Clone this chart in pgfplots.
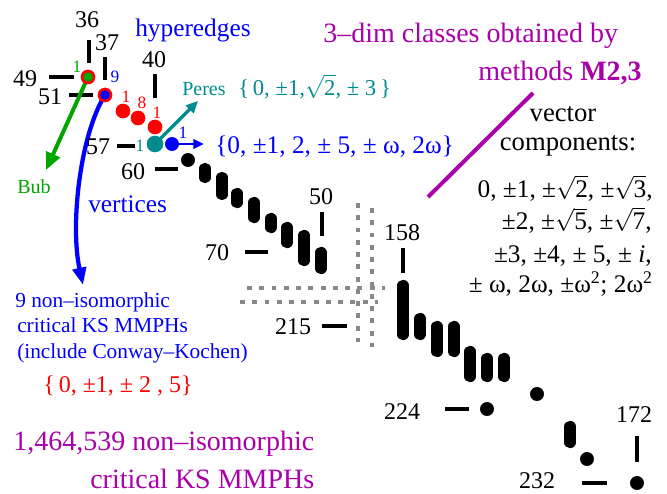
\documentclass[border=0pt]{standalone}
\usepackage{fontspec}
\setmainfont{Liberation Serif}
\usepackage{pgfplots}
\pgfplotsset{compat=1.18}
\usetikzlibrary{arrows.meta}
\definecolor{mag}{RGB}{170,0,170}
\definecolor{tealc}{RGB}{0,140,140}
\definecolor{grn}{RGB}{0,165,0}
\definecolor{gry}{RGB}{136,136,136}
\newcommand\fs[1]{\fontsize{#1pt}{#1pt}\selectfont}
\newcommand\rt[1]{$\sqrt{\mbox{#1}}$}
\begin{document}
\begin{tikzpicture}
\begin{axis}[width=500.25pt,height=369.75pt,scale only axis,
  xmin=0,xmax=667,ymin=0,ymax=493,y dir=reverse,hide axis,clip=false]
\coordinate (BL) at (axis cs:0,493);
\coordinate (TR) at (axis cs:667,0);
% gray dotted axis break
\addplot[gry,line width=3pt,dash pattern=on 3.7pt off 5.5pt,unbounded coords=jump] coordinates {
 (358,203)(358,342) (nan,nan) (372,208)(372,347) (nan,nan)
 (247,288)(385,288) (nan,nan) (240,302)(378,302)};
% tick marks (vertical: hyperedges, horizontal: vertices)
\addplot[black,line width=2.8pt,unbounded coords=jump] coordinates {
 (89,40)(89,63) (nan,nan) (105,57)(105,80) (nan,nan) (155,74)(155,98) (nan,nan)
 (322,212)(322,236) (nan,nan) (403,248)(403,273) (nan,nan) (637,436)(637,462) (nan,nan)
 (49,77)(74,77) (nan,nan) (69,95)(93,95) (nan,nan) (117,146)(135,146) (nan,nan)
 (155,169)(178,169) (nan,nan) (245,252)(268,252) (nan,nan) (322,326)(347,326) (nan,nan)
 (445,409)(469,409) (nan,nan) (582,483)(607,483)};
% black classes (bars = several classes with same hyperedge count)
\addplot[black,line width=8.5pt,line cap=round,unbounded coords=jump] coordinates {
 (205,168.5)(205,177.5) (nan,nan) (222,177.5)(222,194.5) (nan,nan)
 (237,193.5)(237,202.5) (nan,nan) (254,202.5)(254,217.5) (nan,nan)
 (271,218.5)(271,227.5) (nan,nan) (287,227.5)(287,242.5) (nan,nan)
 (304,235.5)(304,260.5) (nan,nan) (321,252.5)(321,268.5) (nan,nan)
 (403,285.5)(403,334.5) (nan,nan) (420,318.5)(420,334.5) (nan,nan)
 (437,326.5)(437,351.5) (nan,nan) (454,326.5)(454,351.5) (nan,nan)
 (470,351.5)(470,376.5) (nan,nan) (487,358.5)(487,376.5) (nan,nan)
 (504,358.5)(504,376.5) (nan,nan) (570,426.5)(570,442.5)};
\addplot[only marks,mark=*,black,mark size=5pt] coordinates {
 (188,160)(537,394)(487,409)(587,459)(637,483)};
% arrows
\draw[grn,line width=3pt,-{Triangle[length=13pt,width=11pt]}] (88,77) -- (46,170);
\draw[blue,line width=3.2pt,-{Triangle[length=13pt,width=10pt]}] (105,95) .. controls (80,135) and (70,225) .. (83,285);
\draw[tealc,line width=2.4pt,-{Triangle[length=9pt,width=8pt]}] (155,144) -- (198,101);
\draw[blue,line width=2.2pt,-{Triangle[length=8pt,width=7pt]}] (172,144) -- (204,144);
\draw[mag,line width=3pt] (533,93) -- (428,197);
% coloured classes
\addplot[only marks,mark=*,red,mark size=5.3pt] coordinates {(88,77)(105,95)(123,111)(138,118)(155,127)};
\addplot[only marks,mark=*,grn,mark size=3.3pt] coordinates {(88,77)};
\addplot[only marks,mark=*,blue,mark size=3.3pt] coordinates {(105,95)};
\addplot[only marks,mark=*,tealc,mark size=6pt] coordinates {(155,144)};
\addplot[only marks,mark=*,blue,mark size=5pt] coordinates {(172,144)};
% tick labels
\begin{scope}[every node/.style={inner sep=0,font=\fs{18}}]
\node at (87,20) {36};
\node at (107,43) {37};
\node at (154,60) {40};
\node at (321,197) {50};
\node at (402,233) {158};
\node at (634,415) {172};
\node at (25,79) {49};
\node at (50,97) {51};
\node at (98,147) {57};
\node at (133,172) {60};
\node at (217,253) {70};
\node at (293,327) {215};
\node at (402,412) {224};
\node at (537,481) {232};
\end{scope}
% small counts
\begin{scope}[every node/.style={inner sep=0,font=\fs{13}}]
\node[grn] at (77,67) {1};
\node[blue] at (115,77) {9};
\node[red] at (126,97) {1};
\node[red] at (142,103) {8};
\node[red] at (157,113) {1};
\node[tealc] at (140,146) {1};
\node[blue] at (183,133) {1};
\end{scope}
% texts
\node[anchor=base west,inner sep=0,blue,font=\fs{19}] at (135,36) {hyperedges};
\node[anchor=base west,inner sep=0,blue,font=\fs{19}] at (88,212) {vertices};
\node[anchor=base west,inner sep=0,grn,font=\fs{15}] at (17,193) {Bub};
\node[anchor=base west,inner sep=0,tealc,font=\fs{15}] at (182,95) {Peres};
\node[anchor=base west,inner sep=0,tealc,font=\fs{17}] at (238,95) {\{\,0, ±1,\rt{2}, ± 3\,\}};
\node[anchor=base west,inner sep=0,blue,font=\fs{19}] at (215,153) {\{0, ±1, 2, ± 5, ± ω, 2ω\}};
\node[anchor=base west,inner sep=0,mag,font=\fs{21}] at (323,42) {3–dim classes obtained by};
\node[anchor=base east,inner sep=0,mag,font=\fs{21}] at (642,80) {methods \textbf{M2,3}};
\node[anchor=base,inner sep=0,font=\fs{20}] at (563,121) {vector};
\node[anchor=base,inner sep=0,font=\fs{20}] at (568,150) {components:};
\node[anchor=base east,inner sep=0,font=\fs{19}] at (653,197) {0, ±1, ±\rt{2}, ±\rt{3},};
\node[anchor=base east,inner sep=0,font=\fs{19}] at (652,229) {±2, ±\rt{5}, ±\rt{7},};
\node[anchor=base east,inner sep=0,font=\fs{19}] at (652,262) {±3, ±4, ± 5, ± \textit{i},};
\node[anchor=base east,inner sep=0,font=\fs{19}] at (653,292) {± ω, 2ω, ±ω\textsuperscript{2}; 2ω\textsuperscript{2}};
\node[anchor=base west,inner sep=0,blue,font=\fs{16}] at (15,307) {9 non–isomorphic};
\node[anchor=base west,inner sep=0,blue,font=\fs{16}] at (17,332) {critical KS MMPHs};
\node[anchor=base west,inner sep=0,blue,font=\fs{16}] at (17,358) {(include Conway–Kochen)};
\node[anchor=base west,inner sep=0,red,font=\fs{18}] at (43,392) {\{\,0, ±1, ± 2 , 5\}};
\node[anchor=base west,inner sep=0,mag,font=\fs{21}] at (13,450) {1,464,539 non–isomorphic};
\node[anchor=base west,inner sep=0,mag,font=\fs{21}] at (90,488) {critical KS MMPHs};
\end{axis}
\pgfresetboundingbox
\path[use as bounding box] (BL) rectangle (TR);
\end{tikzpicture}
\end{document}
